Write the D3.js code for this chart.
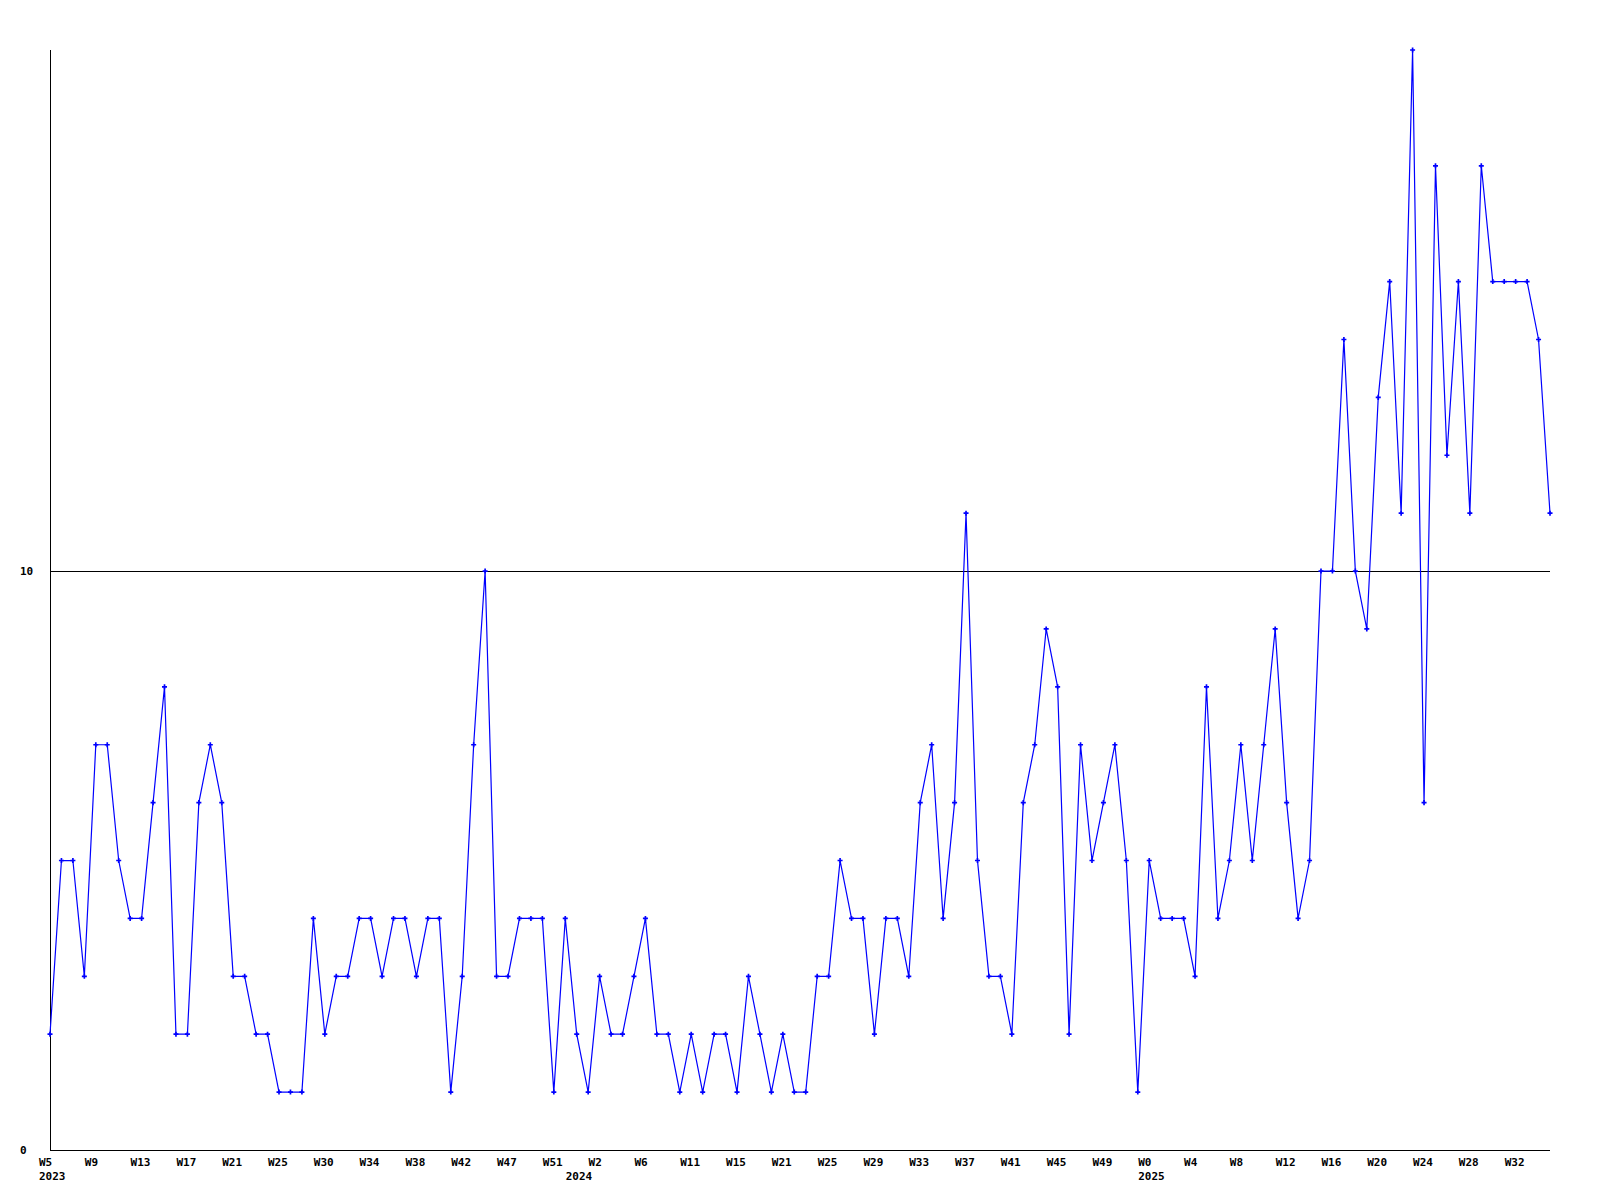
<!DOCTYPE html>
<html>
<head>
<meta charset="utf-8">
<script src="https://cdn.jsdelivr.net/npm/d3@7"></script>
<style>
  html, body { margin: 0; padding: 0; background: #ffffff; }
  svg { display: block; }
  text { font-family: "DejaVu Sans Mono", "Liberation Mono", monospace; font-weight: bold; font-size: 11px; fill: #000; }
</style>
</head>
<body>
<svg id="chart" width="1600" height="1200"></svg>
<script>
// ---- data ----
const values = [
  2,5,5,3,7,7,5,4,4,6,
  8,2,2,6,7,6,3,3,2,2,
  1,1,1,4,2,3,3,4,4,3,
  4,4,3,4,4,1,3,7,10,3,
  3,4,4,4,1,4,2,1,3,2,
  2,3,4,2,2,1,2,1,2,2,
  1,3,2,1,2,1,1,3,3,5,
  4,4,2,4,4,3,6,7,4,6,
  11,5,3,3,2,6,7,9,8,2,
  7,5,6,7,5,1,5,4,4,4,
  3,8,4,5,7,5,7,9,6,4,
  5,10,10,14,10,9,13,15,11,19,
  6,17,12,15,11,17,15,15,15,15,
  14,11
];
const weekLabels = ["W5","W9","W13","W17","W21","W25","W30","W34","W38","W42","W47",
  "W51","W2","W6","W11","W15","W21","W25","W29","W33","W37","W41","W45",
  "W49","W0","W4","W8","W12","W16","W20","W24","W28","W32"];
const yearLabels = ["2023", "2024", "2025"];
const yearFirstWeek = [0, 46, 96];   // index of the first weekly point of each year
const yTicks = [0, 10];
const yMax = 19;
const labelEvery = 4;

// ---- layout ----
(function () {
  const svg = d3.select("#chart");
  const mLeft = 50, mRight = 1550, mTop = 50, mBottom = 1150;
  const labelShift = -11;

  const x = d3.scaleLinear().domain([0, values.length - 1]).range([mLeft, mRight]);
  const y = d3.scaleLinear().domain([0, yMax]).range([mBottom, mTop]);

  // grid line at 10
  svg.selectAll("line.grid").data(yTicks.filter(d => d > 0)).enter().append("line")
    .attr("x1", mLeft).attr("x2", mRight)
    .attr("y1", d => Math.round(y(d)) + 0.5).attr("y2", d => Math.round(y(d)) + 0.5)
    .attr("stroke", "#000").attr("stroke-width", 1).attr("shape-rendering", "crispEdges");

  // axis lines
  svg.append("line").attr("x1", mLeft + 0.5).attr("x2", mLeft + 0.5)
    .attr("y1", y(yMax)).attr("y2", mBottom + 0.5)
    .attr("stroke", "#000").attr("stroke-width", 1).attr("shape-rendering", "crispEdges");
  svg.append("line").attr("x1", mLeft).attr("x2", mRight)
    .attr("y1", mBottom + 0.5).attr("y2", mBottom + 0.5)
    .attr("stroke", "#000").attr("stroke-width", 1).attr("shape-rendering", "crispEdges");

  // y tick labels
  svg.selectAll("text.ylab").data(yTicks).enter().append("text")
    .attr("class", "ylab")
    .attr("x", 20).attr("y", d => y(d) + 4)
    .attr("text-anchor", "start")
    .text(d => d);

  // x week labels
  svg.selectAll("text.xlab").data(weekLabels).enter().append("text")
    .attr("class", "xlab")
    .attr("x", (d, i) => x(i * labelEvery) + labelShift)
    .attr("y", mBottom + 16)
    .attr("text-anchor", "start")
    .text(d => d);

  // year labels
  svg.selectAll("text.yr").data(yearLabels).enter().append("text")
    .attr("class", "yr")
    .attr("x", (d, k) => x(yearFirstWeek[k]) + labelShift)
    .attr("y", mBottom + 30)
    .attr("text-anchor", "start")
    .text(d => d);

  // series line
  const line = d3.line().x((d, i) => x(i)).y(d => y(d));
  svg.append("path").datum(values)
    .attr("d", line)
    .attr("fill", "none")
    .attr("stroke", "#0000ff")
    .attr("stroke-width", 1.2);

  // markers
  const sym = d3.symbol().type(d3.symbolCross).size(14);
  svg.selectAll("path.pt").data(values).enter().append("path")
    .attr("class", "pt")
    .attr("d", sym)
    .attr("transform", (d, i) => `translate(${x(i)},${y(d)})`)
    .attr("fill", "#0000ff");
})();
</script>
</body>
</html>
